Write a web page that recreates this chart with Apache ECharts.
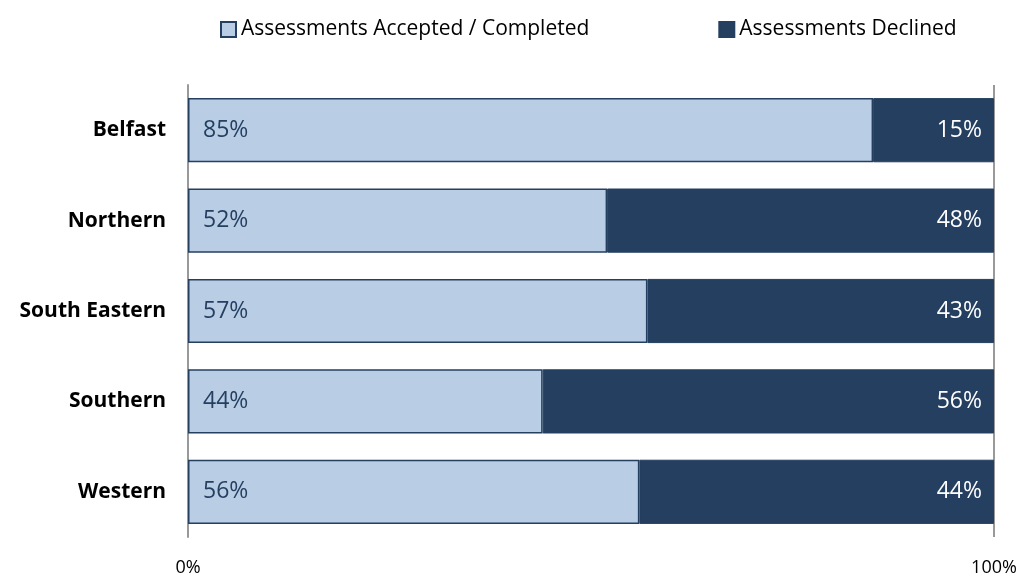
<!DOCTYPE html>
<html>
<head>
<meta charset="utf-8">
<script src="https://cdn.jsdelivr.net/npm/echarts@6/dist/echarts.min.js"></script>
<style>
  html, body { margin: 0; padding: 0; background: #fff; }
  #chart { width: 1025px; height: 580px; }
</style>
</head>
<body>
<div id="chart"></div>
<script>
var regions = ['Belfast', 'Northern', 'South Eastern', 'Southern', 'Western'];
var accepted = [85, 52, 57, 44, 56];
var declined = [15, 48, 43, 56, 44];

var myChart = echarts.init(document.getElementById('chart'));

var option = {
    textStyle: { fontFamily: 'Open Sans' },
    legend: {
        top: 14,
        left: 215,
        itemGap: 129,
        itemWidth: 15,
        itemHeight: 15,
        icon: 'rect',
        textStyle: { fontSize: 21, color: '#000', fontFamily: 'Open Sans' },
        data: ['Assessments Accepted / Completed', 'Assessments Declined']
    },
    grid: { left: 188, right: 31, top: 85, bottom: 43 },
    xAxis: {
        type: 'value',
        min: 0,
        max: 100,
        interval: 100,
        axisLine: { show: false },
        axisTick: { show: false },
        splitLine: { show: true, lineStyle: { color: '#999', width: 2 } },
        axisLabel: {
            formatter: '{value}%',
            fontSize: 18,
            color: '#000',
            margin: 22
        }
    },
    yAxis: {
        type: 'category',
        inverse: true,
        data: regions,
        axisLine: { show: true, lineStyle: { color: '#999', width: 2 } },
        axisTick: { show: false },
        axisLabel: {
            fontSize: 21,
            fontWeight: 'bold',
            color: '#000',
            margin: 22
        }
    },
    series: [{
        name: 'Assessments Accepted / Completed',
        type: 'bar',
        stack: 'total',
        data: accepted,
        barCategoryGap: '29%',
        itemStyle: { color: '#B9CDE5', borderColor: '#243F60', borderWidth: 1.5 },
        label: {
            show: true,
            position: 'insideLeft',
            distance: 15,
            formatter: '{c}%',
            fontSize: 23,
            color: '#243F60'
        }
    }, {
        name: 'Assessments Declined',
        type: 'bar',
        stack: 'total',
        data: declined,
        itemStyle: { color: '#243F60', borderColor: '#243F60', borderWidth: 1 },
        label: {
            show: true,
            position: 'insideRight',
            distance: 12,
            formatter: '{c}%',
            fontSize: 23,
            color: '#fff'
        }
    }]
};

myChart.setOption(option);
</script>
</body>
</html>
